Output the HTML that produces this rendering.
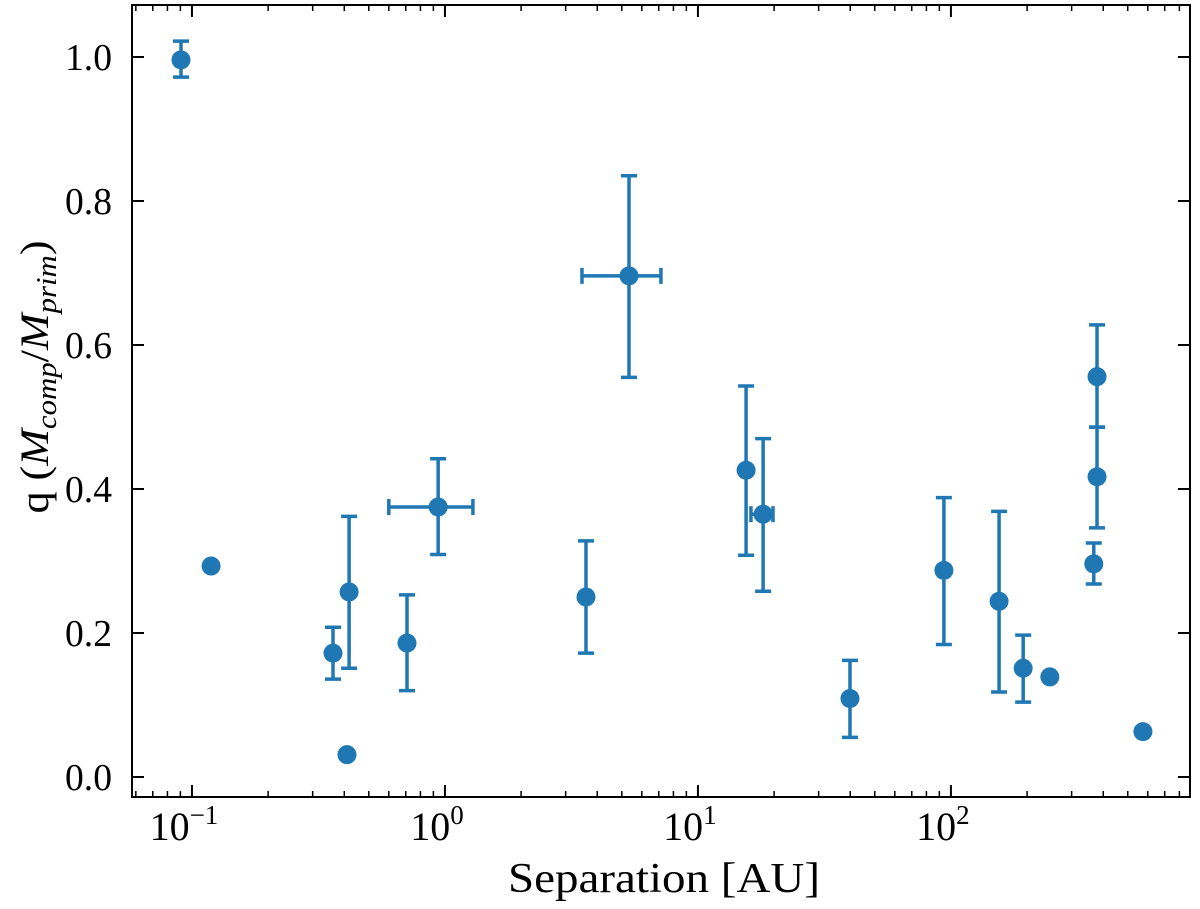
<!DOCTYPE html>
<html><head><meta charset="utf-8"><style>
html,body{margin:0;padding:0;background:#fff;}
svg{display:block;font-family:"Liberation Serif","DejaVu Serif",serif;}
</style></head><body>
<svg id="chart" width="1200" height="909" viewBox="0 0 1200 909" xmlns="http://www.w3.org/2000/svg">
<g id="marks"></g>
<g id="axes"></g>
<text x="664" y="892" font-size="42" text-anchor="middle" textLength="312" lengthAdjust="spacingAndGlyphs">Separation [AU]</text>
<text transform="translate(48,377) rotate(-90)" font-size="40" text-anchor="middle" textLength="273" lengthAdjust="spacingAndGlyphs">q (<tspan font-style="italic">M</tspan><tspan font-style="italic" font-size="28" dy="8">comp</tspan><tspan dy="-8">/</tspan><tspan font-style="italic">M</tspan><tspan font-style="italic" font-size="28" dy="8">prim</tspan><tspan dy="-8">)</tspan></text>
</svg>
<script>
const sep   = [0.0905,0.119,0.361,0.41,0.418,0.708,0.94,3.61,5.34,15.5,18.1,39.9,93.8,155,193,246,367,378,378,574];
const q     = [0.996,0.293,0.172,0.031,0.257,0.186,0.375,0.25,0.696,0.426,0.365,0.109,0.287,0.244,0.151,0.139,0.296,0.417,0.556,0.063];
const qLo   = [0.972,null,0.136,null,0.151,0.12,0.309,0.172,0.555,0.308,0.258,0.055,0.184,0.118,0.104,null,0.268,0.346,0.486,null];
const qHi   = [1.022,null,0.208,null,0.362,0.253,0.442,0.328,0.835,0.543,0.47,0.162,0.388,0.369,0.197,null,0.325,0.486,0.628,null];
const sepLo = [null,null,null,null,null,null,0.6,null,3.48,null,16.2,null,null,null,null,null,null,null,null,null];
const sepHi = [null,null,null,null,null,null,1.29,null,7.14,null,19.8,null,null,null,null,null,null,null,null,null];
const yTicks = [0.0,0.2,0.4,0.6,0.8,1.0];
const yTickLabels = ["0.0","0.2","0.4","0.6","0.8","1.0"];
const xDecades = [-1,0,1,2];

const L=132,R=1190,T=5,B=797;
const xMinLog=-1.237,xMaxLog=2.945;
function X(v){return L+(Math.log10(v)-xMinLog)/(xMaxLog-xMinLog)*(R-L);}
function Y(v){return 777-v*720;}
const NS="http://www.w3.org/2000/svg";
function mk(tag,attrs,parent){const e=document.createElementNS(NS,tag);for(const k in attrs)e.setAttribute(k,attrs[k]);parent.appendChild(e);return e;}
const C="#1f77b4";
const marks=document.getElementById('marks');
for(let i=0;i<sep.length;i++){
  const x=X(sep[i]),y=Y(q[i]);
  if(qLo[i]!==null){
    const g=mk('g',{stroke:C,'stroke-width':3.5},marks);
    
    
    mk('line',{x1:x,x2:x,y1:Y(qLo[i]),y2:Y(qHi[i])},g);
    mk('line',{x1:x-8,x2:x+8,y1:Y(qLo[i]),y2:Y(qLo[i])},g);
    mk('line',{x1:x-8,x2:x+8,y1:Y(qHi[i]),y2:Y(qHi[i])},g);
  }
  if(sepLo[i]!==null){
    const g=mk('g',{stroke:C,'stroke-width':3.5},marks);
    
    
    mk('line',{x1:X(sepLo[i]),x2:X(sepHi[i]),y1:y,y2:y},g);
    mk('line',{x1:X(sepLo[i]),x2:X(sepLo[i]),y1:y-8,y2:y+8},g);
    mk('line',{x1:X(sepHi[i]),x2:X(sepHi[i]),y1:y-8,y2:y+8},g);
  }
  const c=mk('circle',{cx:x,cy:y,r:9.5,fill:C},marks);
  
  
}
const ax=document.getElementById('axes');
const fr=mk('rect',{x:L,y:T,width:R-L,height:B-T,fill:'none',stroke:'#000','stroke-width':2},ax);


yTicks.forEach((v,i)=>{
  const y=Y(v);
  mk('line',{x1:L,x2:L+12,y1:y,y2:y,stroke:'#000','stroke-width':2},ax);
  mk('line',{x1:R,x2:R-12,y1:y,y2:y,stroke:'#000','stroke-width':2},ax);
  const t=mk('text',{x:L-20,y:y+13,'font-size':38,'text-anchor':'end',textLength:47,lengthAdjust:'spacingAndGlyphs'},ax);
  
  
  t.textContent=yTickLabels[i];
});
for(let d=-2;d<=3;d++){
  for(let m=1;m<10;m++){
    const v=m*Math.pow(10,d);const lg=Math.log10(v);
    if(lg<xMinLog||lg>xMaxLog)continue;
    const x=X(v),len=m===1?12:6;
    mk('line',{x1:x,x2:x,y1:B,y2:B-len,stroke:'#000','stroke-width':m===1?2:1.5},ax);
    mk('line',{x1:x,x2:x,y1:T,y2:T+len,stroke:'#000','stroke-width':m===1?2:1.5},ax);
  }
}
xDecades.forEach(d=>{
  const x=X(Math.pow(10,d));
  const t=mk('text',{x:x-8,y:B+43,'font-size':40,'text-anchor':'middle'},ax);
  
  
  t.textContent='10';
  const s=mk('tspan',{'font-size':27,dy:-16},t);
  s.textContent=d<0?'\u2212'+(-d):String(d);
});
</script>
</body></html>
